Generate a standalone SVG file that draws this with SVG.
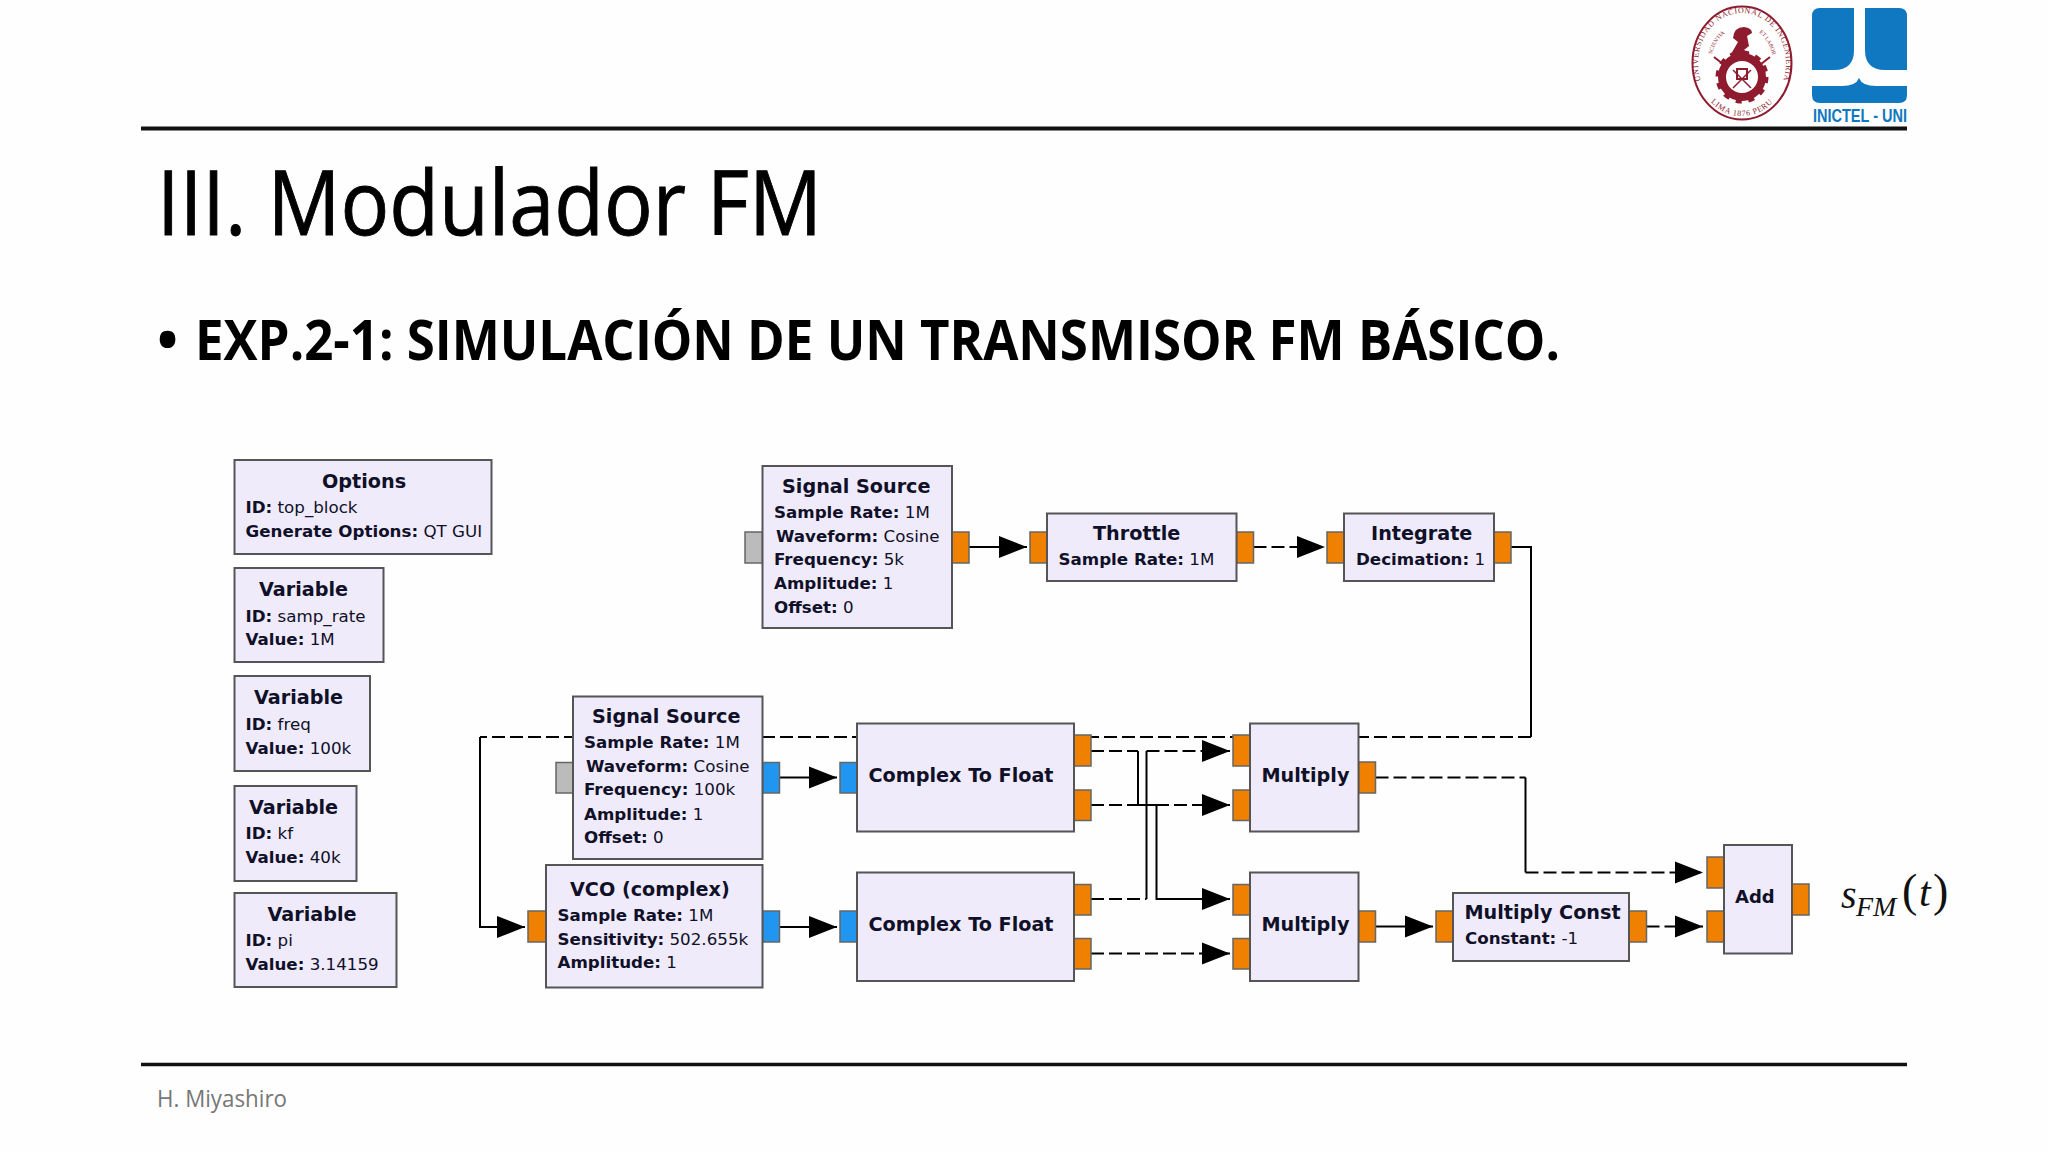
<svg xmlns="http://www.w3.org/2000/svg" width="2048" height="1152" viewBox="0 0 2048 1152">
<style>
.b{fill:#EFEBFB;stroke:#555;stroke-width:2}
.o{fill:#F08000;stroke:#666;stroke-width:1.5}
.c{fill:#2196F0;stroke:#666;stroke-width:1.5}
.g{fill:#BBB;stroke:#666;stroke-width:1.5}
text{font-family:"DejaVu Sans",sans-serif;fill:#101028}
.t{font-size:19.2px;font-weight:bold}
.l{font-size:16.7px}
.l tspan{font-weight:bold}
.w{fill:none;stroke:#000;stroke-width:2}
.d{fill:none;stroke:#000;stroke-width:2;stroke-dasharray:13 5}
.a{marker-end:url(#ah)}
.h{font-family:"Open Sans",sans-serif;fill:#000}
.m{font-family:"Liberation Serif",serif;font-style:italic;fill:#111}
.e{font-family:"Liberation Serif",serif;font-size:8px;fill:#8E1C2E}
</style>
<defs>
<marker id="ah" markerUnits="userSpaceOnUse" markerWidth="28" markerHeight="24" refX="28" refY="12" orient="auto"><path d="M0 1L28 12L0 23Z" fill="#000"/></marker>
<path id="arcTop" d="M1702.500 85A44 50 0 1 1 1781.500 85"/>
<path id="arcBot" d="M1702.400 90A46 53 0 0 0 1781.600 90"/>
<path id="arcL" d="M1711 60A31 36 0 0 1 1730 30"/>
<path id="arcR" d="M1755 30A31 36 0 0 1 1773 60"/>
</defs>
<rect width="2048" height="1152" fill="#FEFEFE"/>

<g id="header">
<path d="M141 128.500H1907" stroke="#111" stroke-width="4"/>
<path d="M141 1064.500H1907" stroke="#111" stroke-width="3.500"/>
<text class="h" x="157" y="235" font-size="90" stroke="#000" stroke-width="0.900" textLength="665" lengthAdjust="spacingAndGlyphs">III. Modulador FM</text>
<text class="h" x="157" y="360" font-size="56" font-weight="bold">•</text>
<text class="h" x="195" y="360" font-size="56" font-weight="bold" textLength="1365" lengthAdjust="spacingAndGlyphs">EXP.2-1: SIMULACIÓN DE UN TRANSMISOR FM BÁSICO.</text>
<text x="157" y="1107" style="font-family:'Open Sans',sans-serif;fill:#777" font-size="23" textLength="130" lengthAdjust="spacingAndGlyphs">H. Miyashiro</text>
</g>

<g id="logo-uni">
<ellipse cx="1742" cy="63" rx="49.500" ry="56.500" fill="#fff" stroke="#8E1C2E" stroke-width="2"/>
<text class="e" letter-spacing="0.700"><textPath href="#arcTop" startOffset="50%" text-anchor="middle">UNIVERSIDAD NACIONAL DE INGENIERIA</textPath></text>
<text class="e" letter-spacing="0.700"><textPath href="#arcBot" startOffset="50%" text-anchor="middle">LIMA  1876  PERU</textPath></text>
<text class="e" style="font-size:5.500px"><textPath href="#arcL" startOffset="50%" text-anchor="middle">SCIENTIA</textPath></text>
<text class="e" style="font-size:5.500px"><textPath href="#arcR" startOffset="50%" text-anchor="middle">ET LABOR</textPath></text>
<path d="M1731 54L1738 42L1733 38Q1734 27 1744 27Q1752 28 1752 33L1747 36L1749 46L1744 50L1750 54Z" fill="#8E1C2E"/>
<path d="M1714 57L1728 68M1770 57L1756 68" stroke="#8E1C2E" stroke-width="2"/>
<circle cx="1742" cy="77" r="20" fill="none" stroke="#8E1C2E" stroke-width="8"/>
<circle cx="1742" cy="77" r="24" fill="none" stroke="#8E1C2E" stroke-width="5" stroke-dasharray="6 6.570"/>
<rect x="1737" y="69" width="10" height="10" fill="none" stroke="#8E1C2E" stroke-width="2"/>
<path d="M1733 88L1751 70M1751 88L1733 70" stroke="#8E1C2E" stroke-width="1.500"/>
</g>
<g id="logo-inictel">
<path d="M1812 16Q1812 8 1820 8H1854V50Q1854 70 1834 70H1812Z" fill="#0F78C0"/>
<path d="M1865 8H1899Q1907 8 1907 16V70H1885Q1865 70 1865 50Z" fill="#0F78C0"/>
<path d="M1812 86H1842Q1856 86 1859 78Q1862 86 1876 86H1907V95Q1907 103 1899 103H1820Q1812 103 1812 95Z" fill="#0F78C0"/>
<text x="1813" y="122" font-size="19" font-weight="bold" style="font-family:'Liberation Sans',sans-serif;fill:#0F78C0" textLength="94" lengthAdjust="spacingAndGlyphs">INICTEL - UNI</text>
</g>

<g id="connectors">
<path class="w a" d="M969 547H1027"/>
<path class="d a" d="M1253.500 547H1325"/>
<path class="w" d="M1511 547H1531V737"/>
<path class="d" d="M1531 737H480"/>
<path class="w a" d="M480 737V927H525"/>
<path class="w a" d="M780 777.500H837"/>
<path class="w a" d="M780 927H837"/>
<path class="d" d="M1091 751H1138"/>
<path class="w" d="M1138 751V805"/>
<path class="d a" d="M1138 805H1230"/>
<path class="d" d="M1091 805H1156.500"/>
<path class="w a" d="M1156.500 805V899H1230"/>
<path class="d" d="M1091 899H1146.500"/>
<path class="w" d="M1146.500 899V751"/>
<path class="d a" d="M1146.500 751H1230"/>
<path class="d a" d="M1091 953.500H1230"/>
<path class="d" d="M1375.500 777.500H1525.500"/>
<path class="w" d="M1525.500 777.500V872.500"/>
<path class="d a" d="M1525.500 872.500H1703"/>
<path class="w a" d="M1375.500 926.500H1433"/>
<path class="d a" d="M1646.500 926.500H1703"/>
</g>

<g id="options"><rect class="b" x="234.500" y="460" width="257" height="94"/>
<text class="t" x="322" y="487.500">Options</text>
<text class="l" x="245.500" y="513"><tspan>ID:</tspan> top_block</text>
<text class="l" x="245.500" y="537"><tspan>Generate Options:</tspan> QT GUI</text></g>

<g id="var-samp-rate"><rect class="b" x="234.500" y="568" width="149" height="94"/>
<text class="t" x="259" y="596">Variable</text>
<text class="l" x="245.500" y="622"><tspan>ID:</tspan> samp_rate</text>
<text class="l" x="245.500" y="645"><tspan>Value:</tspan> 1M</text></g>

<g id="var-freq"><rect class="b" x="234.500" y="676" width="135.500" height="95"/>
<text class="t" x="254" y="704">Variable</text>
<text class="l" x="245.500" y="730"><tspan>ID:</tspan> freq</text>
<text class="l" x="245.500" y="753.500"><tspan>Value:</tspan> 100k</text></g>

<g id="var-kf"><rect class="b" x="234.500" y="786" width="122" height="95"/>
<text class="t" x="249" y="814">Variable</text>
<text class="l" x="245.500" y="839"><tspan>ID:</tspan> kf</text>
<text class="l" x="245.500" y="863"><tspan>Value:</tspan> 40k</text></g>

<g id="var-pi"><rect class="b" x="234.500" y="893" width="162" height="94"/>
<text class="t" x="267.500" y="921">Variable</text>
<text class="l" x="245.500" y="946"><tspan>ID:</tspan> pi</text>
<text class="l" x="245.500" y="970"><tspan>Value:</tspan> 3.14159</text></g>

<g id="signal-source-1"><rect class="g" x="745" y="532" width="17.500" height="31"/><rect class="o" x="952" y="532" width="17" height="31"/>
<rect class="b" x="762.500" y="466" width="189.500" height="162"/>
<text class="t" x="782" y="493">Signal Source</text>
<text class="l" x="774" y="518"><tspan>Sample Rate:</tspan> 1M</text>
<text class="l" x="776" y="542"><tspan>Waveform:</tspan> Cosine</text>
<text class="l" x="774" y="565"><tspan>Frequency:</tspan> 5k</text>
<text class="l" x="774" y="589"><tspan>Amplitude:</tspan> 1</text>
<text class="l" x="774" y="612.500"><tspan>Offset:</tspan> 0</text></g>

<g id="throttle"><rect class="o" x="1030" y="532" width="17" height="31"/><rect class="o" x="1236.500" y="532" width="17" height="31"/>
<rect class="b" x="1047" y="513.500" width="189.500" height="67.500"/>
<text class="t" x="1093" y="540">Throttle</text>
<text class="l" x="1058.500" y="565"><tspan>Sample Rate:</tspan> 1M</text></g>

<g id="integrate"><rect class="o" x="1327" y="532" width="17" height="31"/><rect class="o" x="1494" y="532" width="17" height="31"/>
<rect class="b" x="1344" y="513.500" width="150" height="67.500"/>
<text class="t" x="1371" y="540">Integrate</text>
<text class="l" x="1356" y="565"><tspan>Decimation:</tspan> 1</text></g>

<g id="signal-source-2"><rect class="g" x="556" y="762.500" width="17" height="30.500"/><rect class="c" x="762.500" y="762.500" width="17" height="30.500"/>
<rect class="b" x="573" y="696.500" width="189.500" height="162.500"/>
<text class="t" x="592" y="723">Signal Source</text>
<text class="l" x="584" y="748"><tspan>Sample Rate:</tspan> 1M</text>
<text class="l" x="586" y="772"><tspan>Waveform:</tspan> Cosine</text>
<text class="l" x="584" y="795"><tspan>Frequency:</tspan> 100k</text>
<text class="l" x="584" y="819.500"><tspan>Amplitude:</tspan> 1</text>
<text class="l" x="584" y="843"><tspan>Offset:</tspan> 0</text></g>

<g id="vco"><rect class="o" x="528" y="911" width="18" height="31"/><rect class="c" x="762.500" y="911" width="17" height="31"/>
<rect class="b" x="546" y="865" width="216.500" height="122.500"/>
<text class="t" x="570" y="896">VCO (complex)</text>
<text class="l" x="557.500" y="921"><tspan>Sample Rate:</tspan> 1M</text>
<text class="l" x="557.500" y="945"><tspan>Sensitivity:</tspan> 502.655k</text>
<text class="l" x="557.500" y="968"><tspan>Amplitude:</tspan> 1</text></g>

<g id="complex-to-float-1"><rect class="c" x="840" y="762.500" width="17" height="30.500"/><rect class="o" x="1074" y="735" width="17" height="31"/><rect class="o" x="1074" y="790" width="17" height="30.500"/>
<rect class="b" x="857" y="723.500" width="217" height="108"/>
<text class="t" x="868.500" y="782">Complex To Float</text></g>

<g id="complex-to-float-2"><rect class="c" x="840" y="911" width="17" height="31"/><rect class="o" x="1074" y="884.500" width="17" height="30.500"/><rect class="o" x="1074" y="938.500" width="17" height="30.500"/>
<rect class="b" x="857" y="872.500" width="217" height="108.500"/>
<text class="t" x="868.500" y="931">Complex To Float</text></g>

<g id="multiply-1"><rect class="o" x="1233" y="735" width="17" height="31"/><rect class="o" x="1233" y="790" width="17" height="30.500"/><rect class="o" x="1358.500" y="762" width="17" height="31"/>
<rect class="b" x="1250" y="723.500" width="108.500" height="108"/>
<text class="t" x="1261.500" y="782">Multiply</text></g>

<g id="multiply-2"><rect class="o" x="1233" y="884.500" width="17" height="30.500"/><rect class="o" x="1233" y="938.500" width="17" height="30.500"/><rect class="o" x="1358.500" y="911" width="17" height="31"/>
<rect class="b" x="1250" y="872.500" width="108.500" height="108.500"/>
<text class="t" x="1261.500" y="931">Multiply</text></g>

<g id="multiply-const"><rect class="o" x="1436" y="911" width="17" height="31"/><rect class="o" x="1629" y="911" width="17.500" height="31"/>
<rect class="b" x="1453" y="893" width="176" height="68"/>
<text class="t" x="1464.500" y="918.500">Multiply Const</text>
<text class="l" x="1465" y="944"><tspan>Constant:</tspan> -1</text></g>

<g id="add"><rect class="o" x="1707" y="857" width="17" height="31"/><rect class="o" x="1707" y="911" width="17" height="31"/><rect class="o" x="1792" y="884" width="17" height="31"/>
<rect class="b" x="1724" y="845" width="68" height="108.500"/>
<text class="t" x="1735" y="903" style="font-size:18px">Add</text></g>

<g id="output-label">
<text class="m" x="1841" y="908" font-size="40">s</text>
<text class="m" x="1856" y="916" font-size="28">FM</text>
<text class="m" x="1902" y="906" font-size="46" style="font-style:normal">(</text>
<text class="m" x="1919" y="906" font-size="42">t</text>
<text class="m" x="1933" y="906" font-size="46" style="font-style:normal">)</text>
</g>
</svg>
